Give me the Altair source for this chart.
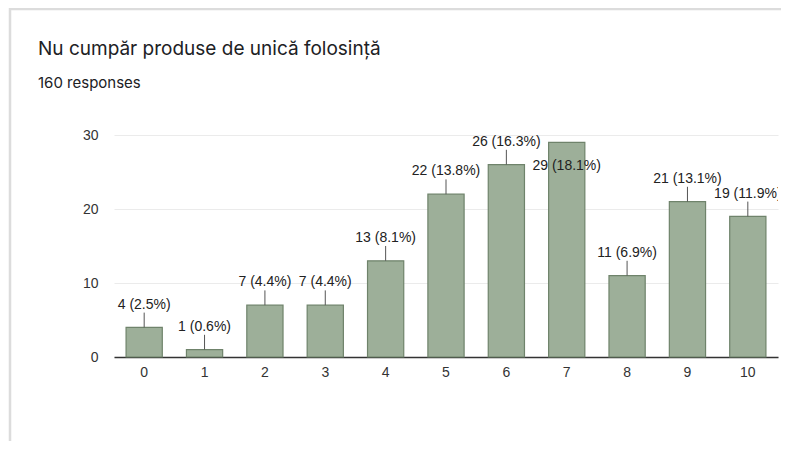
import altair as alt
import pandas as pd

title_text = "Nu cumpăr produse de unică folosință"
subtitle_text = "160 responses"
scores = ["0", "1", "2", "3", "4", "5", "6", "7", "8", "9", "10"]
counts = [4, 1, 7, 7, 13, 22, 26, 29, 11, 21, 19]
percents = ["2.5%", "0.6%", "4.4%", "4.4%", "8.1%", "13.8%", "16.3%", "18.1%", "6.9%", "13.1%", "11.9%"]

df = pd.DataFrame({"score": scores, "count": counts, "pct": percents})
df["label"] = df["count"].astype(str) + " (" + df["pct"] + ")"

W, H = 664, 222
BAR_FILL = "#9daf99"
BAR_STROKE = "#6f836b"
LABEL_FONT = "Liberation Sans"

xenc = alt.X("score:N", sort=scores,
             scale=alt.Scale(paddingInner=0.4, paddingOuter=0.2),
             axis=alt.Axis(title=None, labelAngle=0, ticks=False, domain=True,
                           domainColor="#333333", domainWidth=1.5,
                           labelPadding=8, labelFontSize=14, labelColor="#333333",
                           labelFont=LABEL_FONT, grid=False))
yscale = alt.Scale(domain=[0, 30], nice=False)

base = alt.Chart(df)

bars = base.mark_bar(fill=BAR_FILL, stroke=BAR_STROKE, strokeWidth=1.2).encode(
    x=xenc,
    y=alt.Y("count:Q", scale=yscale,
            axis=alt.Axis(title=None, values=[0, 10, 20, 30], ticks=False, domain=False,
                          labelPadding=16, labelFontSize=14, labelColor="#333333",
                          labelFont=LABEL_FONT, gridColor="#ebebeb")),
)

normal = base.transform_filter("datum.score != '7'")

leaders = normal.transform_calculate(top="datum.count + 2").mark_rule(
    color="#555555", strokeWidth=1).encode(
    x=alt.X("score:N", sort=scores), y=alt.Y("count:Q", scale=yscale), y2="top:Q")

labels = normal.transform_calculate(top="datum.count + 2").mark_text(
    baseline="alphabetic", dy=-4, fontSize=14, font=LABEL_FONT,
    color="#222222", clip=True).encode(
    x=alt.X("score:N", sort=scores), y=alt.Y("top:Q", scale=yscale), text="label:N")

label7 = base.transform_filter("datum.score == '7'").mark_text(
    baseline="middle", dy=24, fontSize=14, font=LABEL_FONT,
    color="#222222").encode(
    x=alt.X("score:N", sort=scores), y=alt.Y("count:Q", scale=yscale), text="label:N")

tdf = pd.DataFrame({"t": [title_text], "s": [subtitle_text]})
title = alt.Chart(tdf).mark_text(align="left", baseline="alphabetic", fontSize=19,
                                 font="Inter", color="#202124").encode(
    text="t:N", x=alt.value(-76), y=alt.value(-80))
subtitle = alt.Chart(tdf).mark_text(align="left", baseline="alphabetic", fontSize=15,
                                    font="Inter", color="#202124").encode(
    text="s:N", x=alt.value(-76), y=alt.value(-47))

card = alt.Chart(tdf).mark_rect(fill=None, stroke="#dcdcdc", strokeWidth=2.5).encode(
    x=alt.value(-104), x2=alt.value(720), y=alt.value(-126), y2=alt.value(330))

chart = alt.layer(card, bars, leaders, labels, label7, title, subtitle).properties(
    width=W, height=H,
    autosize=alt.AutoSizeParams(type="none"),
    padding={"left": 106, "top": 127, "right": 3, "bottom": 84},
).configure_view(stroke=None)

chart.save("out.html", embed_options={"renderer": "svg", "actions": False})
